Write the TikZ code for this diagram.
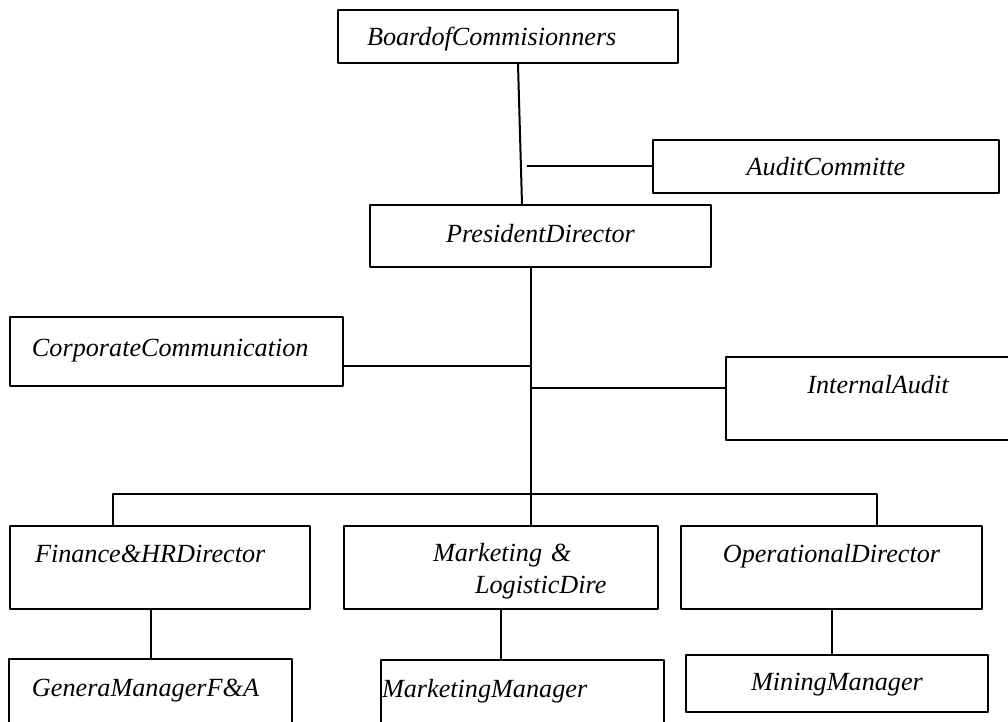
\documentclass[tikz,border=0pt]{standalone}
\usepackage{fontspec}
\setmainfont{Liberation Serif}
\usepackage{tikz}
\usetikzlibrary{calc}

\begin{document}
\begin{tikzpicture}[x = 0.5pt, y = -0.5pt, line join = round,
    box/.style = {draw, rectangle, line width = 1pt, inner sep = 0pt, font = \fontsize{13.1}{16}\selectfont\itshape},
    lbl/.style = {text height = 9pt, text depth = #1},
    lbl/.default = 0pt,
    link/.style = {draw, line width = 1pt}]

    \node[box, lbl, minimum width = 170pt, minimum height = 26.5pt, inner xsep = 14.5pt, text width = 141pt, align = left] (board) at (508, 36.5) {BoardofCommisionners};
    \node[box, lbl = -4pt, minimum width = 173pt, minimum height = 26.5pt] (audit) at (826, 166.5) {AuditCommitte};
    \node[box, lbl = 2.5pt, minimum width = 170.5pt, minimum height = 31pt] (pres) at (540.5, 236) {PresidentDirector};
    \node[box, lbl = 3.5pt, minimum width = 166.5pt, minimum height = 34.5pt, inner xsep = 11pt, text width = 144.5pt, align = left] (corp) at (176.5, 351.5) {CorporateCommunication};
    \node[box, lbl = 14pt, minimum width = 152pt, minimum height = 41.5pt] (intaudit) at (878, 398.5) {InternalAudit};

    \node[box, lbl = 14pt, minimum width = 150pt, minimum height = 41.5pt, inner xsep = 12.5pt, text width = 125pt, align = left] (fin) at (160, 567.5) {Finance\&HRDirector};
    \node[box, text height = 13pt, minimum width = 157pt, minimum height = 41.5pt, inner xsep = 4pt, text width = 149pt, align = left] (mkt) at (501, 567.5) {\hspace*{40.5pt}Marketing \&\\\hspace*{61.5pt}LogisticDire};
    \node[box, lbl = 14pt, minimum width = 150.5pt, minimum height = 41.5pt] (ops) at (831.5, 567.5) {OperationalDirector};

    \node[box, lbl = 13pt, minimum width = 141.5pt, minimum height = 41.5pt, inner xsep = 11.5pt, text width = 118.5pt, align = left] (gen) at (150.5, 700.5) {GeneraManagerF\&A};
    \node[box, lbl = 13.5pt, minimum width = 141.5pt, minimum height = 41.5pt, inner xsep = 0.5pt, text width = 140.5pt, align = left] (mm) at (522.5, 701.5) {MarketingManager};
    \node[box, lbl = 2pt, minimum width = 151pt, minimum height = 28.5pt] (mining) at (837, 683.5) {MiningManager};

    % junctions on the trunk
    \coordinate (acj) at (527, 166.5);
    \coordinate (cj) at (531, 366);
    \coordinate (ij) at (531, 388);
    \coordinate (bus) at (531, 494);
    \coordinate (busL) at (113, 494);
    \coordinate (busR) at (877, 494);

    \draw[link] ([xshift = 5pt]board.south) -- ([xshift = -9.25pt]pres.north);
    \draw[link] (audit.west) -- (acj);
    \draw[link] (pres.south -| bus) -- (bus |- mkt.north);
    \draw[link] (cj -| corp.east) -- (cj);
    \draw[link] (ij) -- (ij -| intaudit.west);
    \draw[link] (busL |- fin.north) |- (busR) -- (busR |- ops.north);
    \draw[link] (gen.north |- fin.south) -- (gen.north);
    \draw[link] (mkt.south) -- (mkt.south |- mm.north);
    \draw[link] (ops.south) -- (ops.south |- mining.north);

    \pgfresetboundingbox
    \useasboundingbox (0, 0) rectangle (1008, 722);
\end{tikzpicture}
\end{document}
